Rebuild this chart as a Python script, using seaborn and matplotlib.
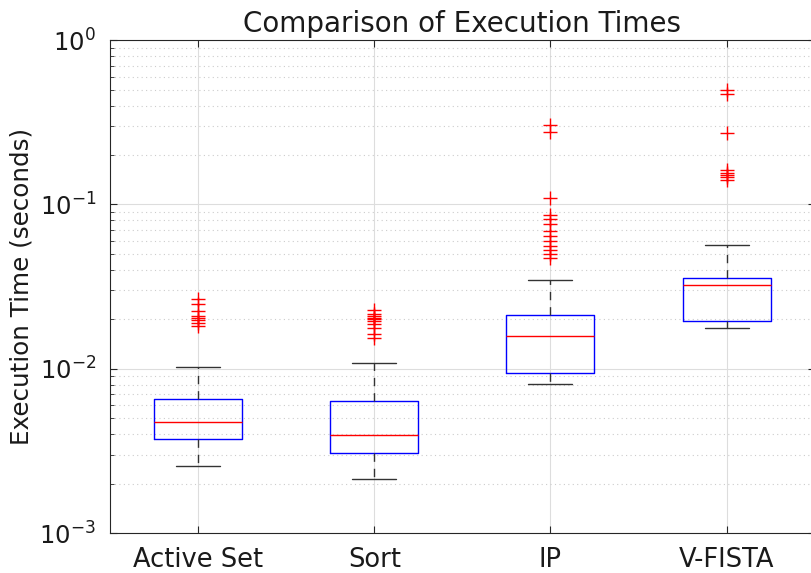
import numpy as np
import pandas as pd
import matplotlib
matplotlib.use("Agg")
import matplotlib.pyplot as plt
from matplotlib.ticker import LogLocator, NullFormatter
import seaborn as sns

# summary values (seconds)
methods = ["Active Set", "Sort", "IP", "V-FISTA"]
whisker_low = [0.00255, 0.00212, 0.0081, 0.0177]
q1 = [0.00371, 0.00305, 0.00946, 0.0195]
medians = [0.00471, 0.00393, 0.01585, 0.0323]
q3 = [0.00658, 0.0064, 0.0212, 0.0356]
whisker_high = [0.0102, 0.0109, 0.0346, 0.0565]
outliers = [
    [0.0266, 0.0248, 0.0225, 0.0210, 0.0204, 0.0198, 0.0190, 0.0182],
    [0.0228, 0.0216, 0.0210, 0.0204, 0.0201, 0.0195, 0.0187, 0.0177, 0.0163, 0.0154],
    [0.305, 0.275, 0.110, 0.0869, 0.0811, 0.0757, 0.0686, 0.0640, 0.0597,
     0.0556, 0.0526, 0.0498, 0.0471],
    [0.498, 0.471, 0.273, 0.163, 0.156, 0.152, 0.146, 0.140],
]

# build a long table whose box statistics equal the values above
rep = 100
rows = []
for i, m in enumerate(methods):
    vals = ([whisker_low[i]] + [q1[i]] * rep + [medians[i]] * rep
            + [q3[i]] * rep + [whisker_high[i]] + outliers[i])
    rows += [(m, v) for v in vals]
df = pd.DataFrame(rows, columns=["method", "time"])

sns.set_style("white")
plt.rcParams["font.family"] = ["DejaVu Sans"]
plt.rcParams["mathtext.fontset"] = "dejavusans"

fig = plt.figure(figsize=(8.11, 5.73), dpi=100)
ax = fig.add_axes([0.1356, 0.0698, 0.869, 0.860])

sns.boxplot(
    data=df, x="method", y="time", order=methods, ax=ax,
    fill=False, width=0.5, whis=1.5, linewidth=1,
    boxprops=dict(color="#0000ff"),
    medianprops=dict(color="#ff0000"),
    whiskerprops=dict(color="#333333", linestyle=(0, (6, 5))),
    capprops=dict(color="#333333"),
    flierprops=dict(marker="+", markersize=10, markeredgecolor="#ff0000",
                    markeredgewidth=1, linestyle="none"),
)

ax.set_yscale("log")
ax.set_ylim(1e-3, 1)
ax.set_xlim(-0.5, 3.5)
ax.yaxis.set_major_locator(LogLocator(base=10, numticks=10))
ax.yaxis.set_minor_locator(LogLocator(base=10, subs=np.arange(2, 10), numticks=20))
ax.yaxis.set_minor_formatter(NullFormatter())

ax.grid(True, which="major", color="#dddddd", linewidth=0.8)
ax.grid(True, which="minor", axis="y", color="#cccccc", linestyle=(0, (1, 3)), linewidth=0.8)
ax.set_axisbelow(True)

for s in ax.spines.values():
    s.set_color("#262626")
    s.set_linewidth(0.8)
ax.tick_params(which="both", direction="in", colors="#262626", labelcolor="#1a1a1a",
               top=True, right=True, left=True, bottom=True)
ax.tick_params(axis="x", labelsize=18.5, pad=10)
ax.tick_params(axis="y", labelsize=17.5, pad=10)
ax.tick_params(which="major", length=5)
ax.tick_params(which="minor", length=3)

ax.set_title("Comparison of Execution Times", fontsize=20, color="#1a1a1a", pad=6)
ax.set_ylabel("Execution Time (seconds)", fontsize=17.7, color="#1a1a1a", labelpad=4)
ax.set_xlabel("")

fig.savefig("out.png", dpi=100)
